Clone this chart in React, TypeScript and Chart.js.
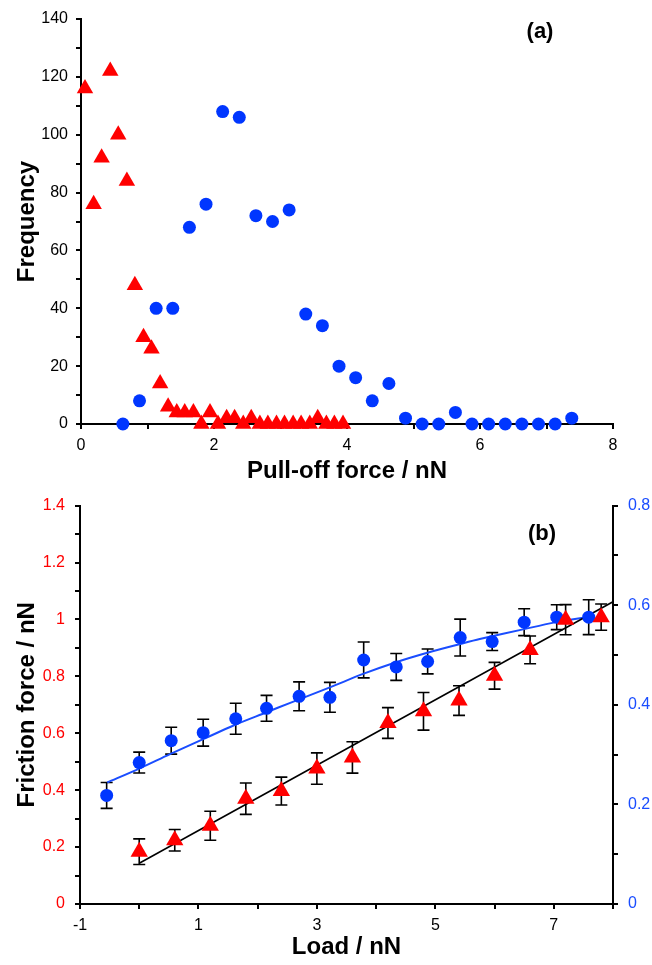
import React, { useEffect, useRef } from 'react';
import { Chart, registerables } from 'chart.js';
Chart.register(...registerables);

const FONT = "'Liberation Sans', Arial, Helvetica, sans-serif";
const RED = '#ff0000';
const BLUE = '#0036ff';
const BLUE_TICK = '#1a4dff';

// ---------- Panel (a): pull-off force histogram ----------
const pullRedX = [0.06, 0.19, 0.31, 0.44, 0.56, 0.69, 0.81, 0.94, 1.06, 1.19, 1.31, 1.44, 1.56, 1.69, 1.81, 1.94, 2.06, 2.19, 2.31, 2.44, 2.56, 2.69, 2.81, 2.94, 3.06, 3.19, 3.31, 3.44, 3.56, 3.69, 3.81, 3.94];
const pullRedY = [116, 76, 92, 122, 100, 84, 48, 30, 26, 14, 6, 4, 4, 4, 0, 4, 0, 2, 2, 0, 2, 0, 0, 0, 0, 0, 0, 0, 2, 0, 0, 0];
const pullBlueX = [0.63, 0.88, 1.13, 1.38, 1.63, 1.88, 2.13, 2.38, 2.63, 2.88, 3.13, 3.38, 3.63, 3.88, 4.13, 4.38, 4.63, 4.88, 5.13, 5.38, 5.63, 5.88, 6.13, 6.38, 6.63, 6.88, 7.13, 7.38];
const pullBlueY = [0, 8, 40, 40, 68, 76, 108, 106, 72, 70, 74, 38, 34, 20, 16, 8, 14, 2, 0, 0, 4, 0, 0, 0, 0, 0, 0, 2];

// ---------- Panel (b): friction vs load ----------
const loadRedX = [0, 0.6, 1.2, 1.8, 2.4, 3.0, 3.6, 4.2, 4.8, 5.4, 6.0, 6.6, 7.2, 7.8];
const frictionRedY = [0.184, 0.224, 0.275, 0.37, 0.397, 0.476, 0.515, 0.636, 0.677, 0.715, 0.802, 0.893, 0.999, 1.008];
const frictionRedErr = [0.045, 0.038, 0.051, 0.055, 0.049, 0.055, 0.055, 0.054, 0.066, 0.052, 0.047, 0.049, 0.053, 0.046];

const loadBlueX = [-0.55, 0.0, 0.54, 1.08, 1.63, 2.15, 2.7, 3.22, 3.79, 4.34, 4.87, 5.42, 5.96, 6.5, 7.05, 7.59];
const frictionBlueY = [0.218, 0.284, 0.328, 0.344, 0.372, 0.393, 0.417, 0.415, 0.49, 0.476, 0.487, 0.535, 0.527, 0.566, 0.576, 0.576];
const frictionBlueErr = [0.026, 0.021, 0.027, 0.027, 0.031, 0.026, 0.029, 0.03, 0.036, 0.027, 0.025, 0.037, 0.018, 0.027, 0.025, 0.035];

const fitLineX = [0, 8];
const fitLineY = [0.143, 1.062];
const fitCurveX = [-0.54, 0.0, 0.52, 1.08, 1.62, 2.15, 2.55, 3.22, 3.78, 4.35, 4.88, 5.42, 5.75, 6.5, 7.0, 7.6];
const fitCurveY = [0.244, 0.272, 0.301, 0.331, 0.36, 0.385, 0.404, 0.435, 0.462, 0.486, 0.505, 0.522, 0.532, 0.552, 0.565, 0.577];

const zip = (xs: number[], ys: number[]) => xs.map((x, i) => ({ x, y: ys[i] }));

const errorBarPlugin = {
  id: 'errorBars',
  beforeDatasetsDraw(chart: any) {
    const ctx = chart.ctx;
    chart.data.datasets.forEach((ds: any, i: number) => {
      const err: number[] | undefined = ds.errors;
      if (!err) return;
      const meta = chart.getDatasetMeta(i);
      const xs = chart.scales[meta.xAxisID];
      const ys = chart.scales[meta.yAxisID];
      ctx.save();
      ctx.strokeStyle = '#000';
      ctx.lineWidth = 1.6;
      ds.data.forEach((p: any, j: number) => {
        const x = xs.getPixelForValue(p.x);
        const y1 = ys.getPixelForValue(p.y + err[j]);
        const y2 = ys.getPixelForValue(p.y - err[j]);
        const cap = 6;
        ctx.beginPath();
        ctx.moveTo(x, y1);
        ctx.lineTo(x, y2);
        ctx.moveTo(x - cap, y1);
        ctx.lineTo(x + cap, y1);
        ctx.moveTo(x - cap, y2);
        ctx.lineTo(x + cap, y2);
        ctx.stroke();
      });
      ctx.restore();
    });
  },
};

const panelLabelPlugin = {
  id: 'panelLabel',
  afterDraw(chart: any, _args: any, opts: any) {
    if (!opts || !opts.text) return;
    const { ctx, chartArea } = chart;
    ctx.save();
    ctx.font = `bold 22px ${FONT}`;
    ctx.fillStyle = '#000';
    ctx.textAlign = 'center';
    ctx.textBaseline = 'middle';
    ctx.fillText(opts.text, chartArea.right - opts.dx, chartArea.top + opts.dy);
    ctx.restore();
  },
};

const tickFont = { family: FONT, size: 16 };
const titleFont = { family: FONT, size: 24, weight: 'bold' as const };

const axisLook = {
  border: { display: true, color: '#000', width: 2 },
  grid: {
    display: true,
    drawOnChartArea: false,
    drawTicks: true,
    tickLength: 5,
    tickWidth: 2,
    tickColor: '#000',
    color: '#000',
    lineWidth: 2,
  },
};

const configA = (): any => ({
  type: 'scatter',
  data: {
    datasets: [
      {
        data: zip(pullRedX, pullRedY),
        pointStyle: 'triangle',
        pointRadius: 9.5,
        pointHoverRadius: 9.5,
        backgroundColor: RED,
        borderColor: RED,
        borderWidth: 0,
        clip: false,
      },
      {
        data: zip(pullBlueX, pullBlueY),
        pointStyle: 'circle',
        pointRadius: 6.5,
        pointHoverRadius: 6.5,
        backgroundColor: BLUE,
        borderColor: BLUE,
        borderWidth: 0,
        clip: false,
      },
    ],
  },
  options: {
    responsive: false,
    animation: false,
    devicePixelRatio: 1,
    layout: { padding: { top: 19, right: 39, left: 0, bottom: 0 } },
    plugins: {
      legend: { display: false },
      tooltip: { enabled: false },
      panelLabel: { text: '(a)', dx: 73, dy: 13 },
    },
    scales: {
      x: {
        type: 'linear',
        min: 0,
        max: 8,
        afterFit: (s: any) => { s.height = 62; },
        ...axisLook,
        ticks: {
          stepSize: 1,
          autoSkip: false,
          maxRotation: 0,
          padding: 7,
          color: '#000',
          font: tickFont,
          callback: (v: number) => (Math.round(v) % 2 === 0 ? String(v) : ''),
        },
        title: { display: true, text: 'Pull-off force / nN', color: '#000', font: titleFont, padding: { top: 0, bottom: 0 } },
      },
      y: {
        type: 'linear',
        min: 0,
        max: 140,
        afterFit: (s: any) => { s.width = 81; },
        ...axisLook,
        ticks: {
          stepSize: 10,
          autoSkip: false,
          padding: 8,
          color: '#000',
          font: tickFont,
          callback: (v: number) => (Math.round(v) % 20 === 0 ? String(v) : ''),
        },
        title: { display: true, text: 'Frequency', color: '#000', font: titleFont, padding: { top: 13, bottom: 0 } },
      },
    },
  },
  plugins: [panelLabelPlugin],
});

const configB = (): any => ({
  type: 'scatter',
  data: {
    datasets: [
      {
        data: zip(loadRedX, frictionRedY),
        errors: frictionRedErr,
        yAxisID: 'y',
        pointStyle: 'triangle',
        pointRadius: 10,
        pointHoverRadius: 10,
        backgroundColor: RED,
        borderColor: RED,
        borderWidth: 0,
        clip: false,
        order: 1,
      },
      {
        data: zip(loadBlueX, frictionBlueY),
        errors: frictionBlueErr,
        yAxisID: 'y1',
        pointStyle: 'circle',
        pointRadius: 6.5,
        pointHoverRadius: 6.5,
        backgroundColor: BLUE,
        borderColor: BLUE,
        borderWidth: 0,
        clip: false,
        order: 1,
      },
      {
        data: zip(fitLineX, fitLineY),
        yAxisID: 'y',
        showLine: true,
        pointRadius: 0,
        borderColor: '#000',
        borderWidth: 1.6,
        backgroundColor: 'transparent',
        clip: false,
        order: 2,
      },
      {
        data: zip(fitCurveX, fitCurveY),
        yAxisID: 'y1',
        showLine: true,
        pointRadius: 0,
        borderColor: '#1a4dff',
        borderWidth: 2,
        tension: 0.3,
        backgroundColor: 'transparent',
        order: 2,
      },
    ],
  },
  options: {
    responsive: false,
    animation: false,
    devicePixelRatio: 1,
    layout: { padding: { top: 15, right: 0, left: 0, bottom: 0 } },
    plugins: {
      legend: { display: false },
      tooltip: { enabled: false },
      panelLabel: { text: '(b)', dx: 71, dy: 28 },
    },
    scales: {
      x: {
        type: 'linear',
        min: -1,
        max: 8,
        afterFit: (s: any) => { s.height = 61; },
        ...axisLook,
        ticks: {
          stepSize: 1,
          autoSkip: false,
          maxRotation: 0,
          padding: 7,
          color: '#000',
          font: tickFont,
          callback: (v: number) => (Math.abs(Math.round(v)) % 2 === 1 ? String(v) : ''),
        },
        title: { display: true, text: 'Load / nN', color: '#000', font: titleFont, padding: { top: 0, bottom: 3 } },
      },
      y: {
        type: 'linear',
        position: 'left',
        min: 0,
        max: 1.4,
        afterFit: (s: any) => { s.width = 80; },
        ...axisLook,
        ticks: {
          stepSize: 0.1,
          autoSkip: false,
          padding: 10,
          color: RED,
          font: tickFont,
          callback: (v: number) => {
            const t = Math.round(v * 10);
            return t % 2 === 0 ? String(t / 10) : '';
          },
        },
        title: { display: true, text: 'Friction force / nN', color: '#000', font: titleFont, padding: { top: 13, bottom: 0 } },
      },
      y1: {
        type: 'linear',
        position: 'right',
        min: 0,
        max: 0.8,
        afterFit: (s: any) => { s.width = 39; },
        ...axisLook,
        ticks: {
          stepSize: 0.1,
          autoSkip: false,
          padding: 10,
          color: BLUE_TICK,
          font: tickFont,
          callback: (v: number) => {
            const t = Math.round(v * 10);
            return t % 2 === 0 ? String(t / 10) : '';
          },
        },
      },
    },
  },
  plugins: [errorBarPlugin, panelLabelPlugin],
});

function ChartCanvas({ height, config }: { height: number; config: () => any }) {
  const ref = useRef<HTMLCanvasElement | null>(null);
  useEffect(() => {
    if (!ref.current) return;
    const chart = new Chart(ref.current, config());
    return () => chart.destroy();
  }, []);
  return <canvas ref={ref} width={652} height={height} style={{ display: 'block', width: 652, height }} />;
}

export default function App() {
  return (
    <div style={{ position: 'absolute', left: 0, top: 0, width: 652, height: 965, background: '#fff' }}>
      <ChartCanvas height={486} config={configA} />
      <ChartCanvas height={479} config={configB} />
    </div>
  );
}
